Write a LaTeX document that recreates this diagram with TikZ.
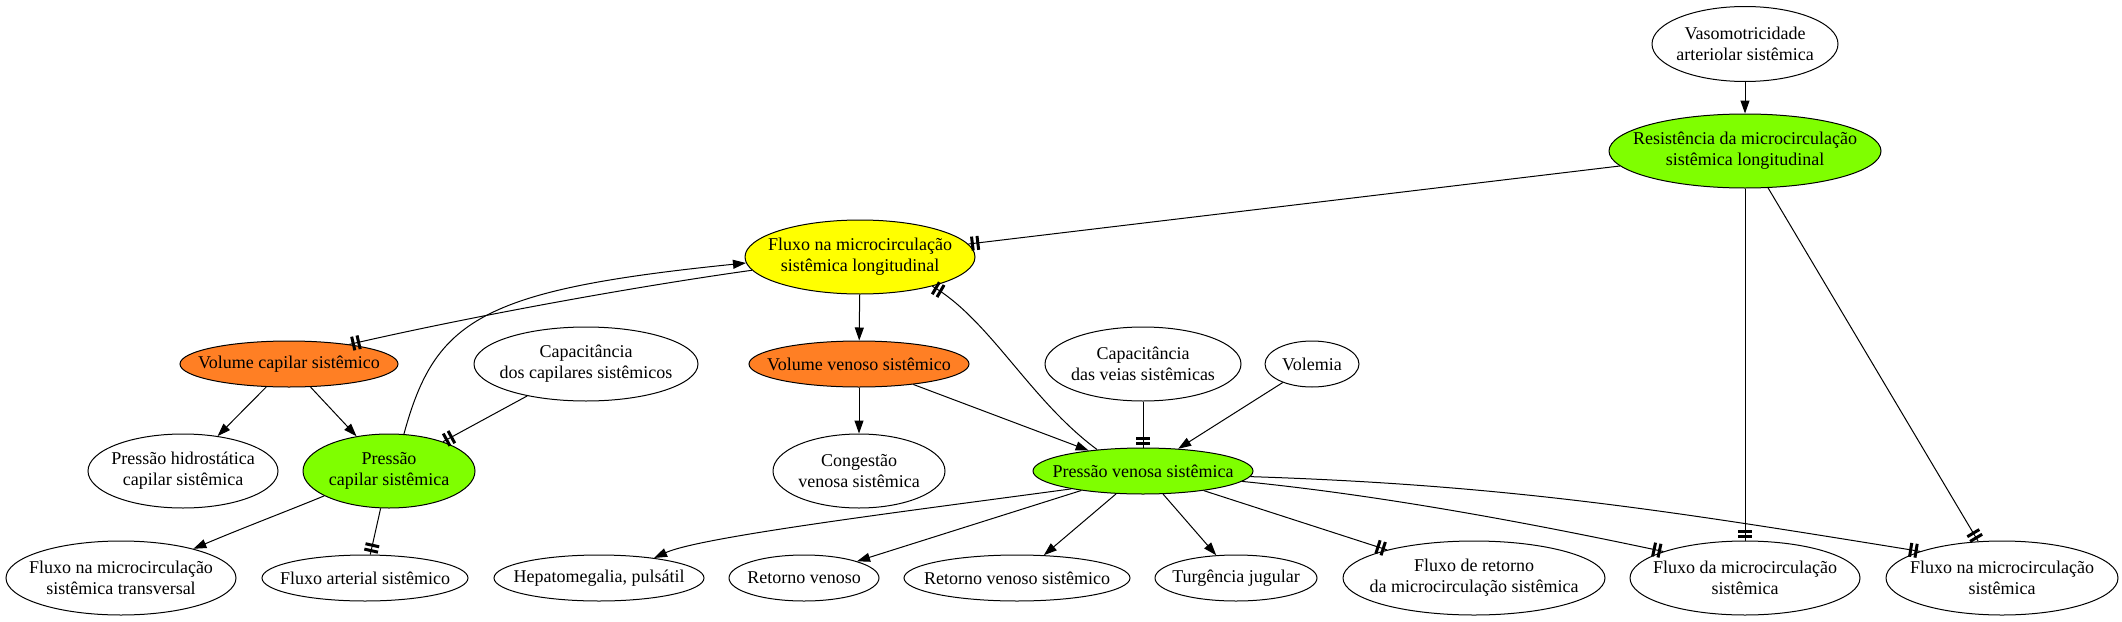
\documentclass[tikz,border=0pt]{standalone}
\usepackage{fontspec}
\setmainfont{Liberation Serif}
\usetikzlibrary{shapes.geometric, arrows.meta, decorations.markings}

\definecolor{gvgreen}{HTML}{7FFF00}
\definecolor{gvyellow}{HTML}{FFFF00}
\definecolor{gvorange}{HTML}{FF7F24}

\tikzset{
  ell/.style={ellipse, draw=black, line width=1pt, inner sep=0pt},
  txt/.style={font=\fontsize{18}{21}\selectfont, align=center, inner sep=0pt},
  arr/.style={line width=1pt, -{Triangle[length=13pt,width=9pt]}},
  tt/.style={line width=1pt, postaction={decorate, decoration={markings,
      mark=at position 1 with {\fill (-2.5pt,-7pt) rectangle (-5.5pt,7pt);
                               \fill (-8pt,-7pt) rectangle (-11pt,7pt);}}}},
}

\begin{document}
\begin{tikzpicture}[x=1pt, y=1pt]
\fill[white] (0,0) rectangle (2122,-621);
\useasboundingbox (0,0) rectangle (2122,-621);

% row 0-1
\node[ell, fill=white, minimum width=186pt, minimum height=75pt,
  label={[txt]center:Vasomotricidade\\arteriolar sistêmica}] (vaso) at (1745,-44) {};
\node[ell, fill=gvgreen, minimum width=272pt, minimum height=74pt,
  label={[txt]center:Resistência da microcirculação\\sistêmica longitudinal}] (res) at (1745,-151) {};
% row 2
\node[ell, fill=gvyellow, minimum width=230pt, minimum height=74pt,
  label={[txt]center:Fluxo na microcirculação\\sistêmica longitudinal}] (fl) at (860,-257) {};
% row 3
\node[ell, fill=gvorange, minimum width=218pt, minimum height=46pt,
  label={[txt]center:Volume capilar sistêmico}] (vc) at (289,-364) {};
\node[ell, fill=white, minimum width=224pt, minimum height=74pt,
  label={[txt]center:Capacitância\\dos capilares sistêmicos}] (capc) at (586,-364) {};
\node[ell, fill=gvorange, minimum width=220pt, minimum height=46pt,
  label={[txt]center:Volume venoso sistêmico}] (vv) at (859,-364) {};
\node[ell, fill=white, minimum width=196pt, minimum height=74pt,
  label={[txt]center:Capacitância\\das veias sistêmicas}] (capv) at (1143,-364) {};
\node[ell, fill=white, minimum width=94pt, minimum height=46pt,
  label={[txt]center:Volemia}] (vol) at (1312,-364) {};
% row 4
\node[ell, fill=white, minimum width=190pt, minimum height=74pt,
  label={[txt]center:Pressão hidrostática\\capilar sistêmica}] (ph) at (183,-471) {};
\node[ell, fill=gvgreen, minimum width=172pt, minimum height=74pt,
  label={[txt]center:Pressão\\capilar sistêmica}] (pc) at (389,-471) {};
\node[ell, fill=white, minimum width=172pt, minimum height=74pt,
  label={[txt]center:Congestão\\venosa sistêmica}] (cong) at (859,-471) {};
\node[ell, fill=gvgreen, minimum width=220pt, minimum height=46pt,
  label={[txt]center:Pressão venosa sistêmica}] (pv) at (1143,-471) {};
% row 5
\node[ell, fill=white, minimum width=230pt, minimum height=74pt,
  label={[txt]center:Fluxo na microcirculação\\sistêmica transversal}] (ft) at (121,-578) {};
\node[ell, fill=white, minimum width=206pt, minimum height=46pt,
  label={[txt]center:Fluxo arterial sistêmico}] (fa) at (365,-578) {};
\node[ell, fill=white, minimum width=210pt, minimum height=46pt,
  label={[txt]center:Hepatomegalia, pulsátil}] (hep) at (599,-578) {};
\node[ell, fill=white, minimum width=150pt, minimum height=46pt,
  label={[txt]center:Retorno venoso}] (rv) at (804,-578) {};
\node[ell, fill=white, minimum width=226pt, minimum height=46pt,
  label={[txt]center:Retorno venoso sistêmico}] (rvs) at (1017,-578) {};
\node[ell, fill=white, minimum width=162pt, minimum height=46pt,
  label={[txt]center:Turgência jugular}] (tj) at (1236,-578) {};
\node[ell, fill=white, minimum width=262pt, minimum height=74pt,
  label={[txt]center:Fluxo de retorno\\da microcirculação sistêmica}] (fr) at (1474,-578) {};
\node[ell, fill=white, minimum width=230pt, minimum height=74pt,
  label={[txt]center:Fluxo da microcirculação\\sistêmica}] (fdm) at (1745,-578) {};
\node[ell, fill=white, minimum width=232pt, minimum height=74pt,
  label={[txt]center:Fluxo na microcirculação\\sistêmica}] (fnm) at (2002,-578) {};

% edges
\draw[arr] (vaso) -- (res);
\draw[tt] (res) -- (fl);
\draw[arr] (fl) -- (vv);
\draw[tt] (pv.155) .. controls (1030,-400) and (990,-320) .. (fl.-22);
\draw[tt] (fl.187) .. controls (632,-287) and (468,-317) .. (vc.18);
\draw[arr] (pc.68) .. controls (435,-320) and (480,-290) .. (fl.183);
\draw[arr] (vc) -- (ph);
\draw[arr] (vc) -- (pc);
\draw[tt] (capc) -- (pc);
\draw[arr] (pc.201) .. controls (290,-510) and (245,-527) .. (ft.22);
\draw[tt] (pc) -- (fa);
\draw[arr] (vv) -- (cong);
\draw[arr] (vv) -- (pv);
\draw[tt] (capv) -- (pv);
\draw[arr] (vol) -- (pv);
\draw[arr] (pv.194) .. controls (900,-512) and (700,-537) .. (hep.20);
\draw[arr] (pv) -- (rv);
\draw[arr] (pv) -- (rvs);
\draw[arr] (pv) -- (tj);
\draw[tt] (pv) -- (fr);
\draw[tt] (pv.-6) .. controls (1380,-495) and (1530,-523) .. (fdm.162);
\draw[tt] (pv.-3) .. controls (1510,-485) and (1671,-511) .. (fnm.162);
\draw[tt] (res) -- (fdm);
\draw[tt] (res.-58) -- (fnm.123);
\end{tikzpicture}
\end{document}
